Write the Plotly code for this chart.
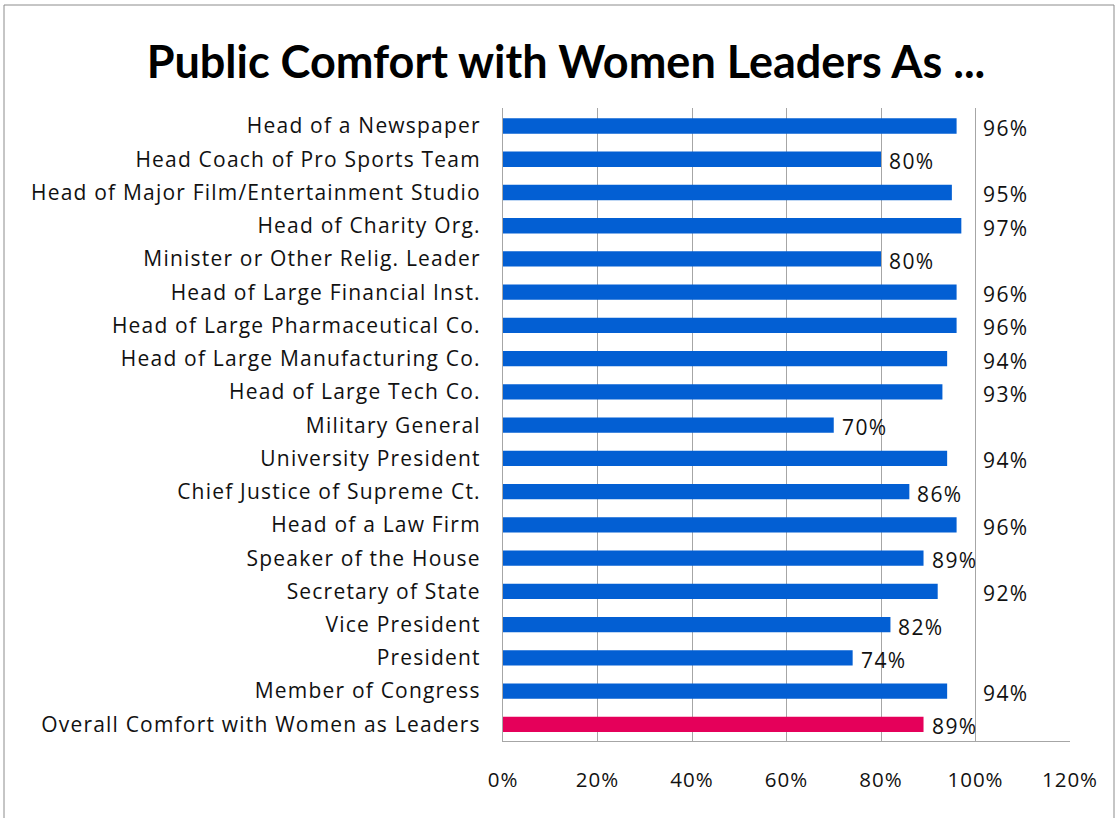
import plotly.graph_objects as go

categories = [
    "Head of a Newspaper",
    "Head Coach of Pro Sports Team",
    "Head of Major Film/Entertainment Studio",
    "Head of Charity Org.",
    "Minister or Other Relig. Leader",
    "Head of Large Financial Inst.",
    "Head of Large Pharmaceutical Co.",
    "Head of Large Manufacturing Co.",
    "Head of Large Tech Co.",
    "Military General",
    "University President",
    "Chief Justice of Supreme Ct.",
    "Head of a Law Firm",
    "Speaker of the House",
    "Secretary of State",
    "Vice President",
    "President",
    "Member of Congress",
    "Overall Comfort with Women as Leaders",
]
values = [96, 80, 95, 97, 80, 96, 96, 94, 93, 70, 94, 86, 96, 89, 92, 82, 74, 94, 89]
x_ticks = [0, 20, 40, 60, 80, 100, 120]
x_tick_labels = ["0%", "20%", "40%", "60%", "80%", "100%", "120%"]
highlight = "Overall Comfort with Women as Leaders"

BLUE = "#035FD3"
PINK = "#E5005A"
colors = [PINK if c == highlight else BLUE for c in categories]

FONT = "'Open Sans', Lato, sans-serif"
TITLE_FONT = "Lato, 'Open Sans', sans-serif"


def spaced(s, px):
    return f'<span style="letter-spacing:{px}px">{s}</span>'


fig = go.Figure(
    go.Bar(
        x=values,
        y=categories,
        orientation="h",
        marker=dict(color=colors, line=dict(width=0)),
        width=0.46,
        hoverinfo="skip",
    )
)

# data labels: just past the bar end; labels of bars above 90% sit past the 100% gridline
for cat, v in zip(categories, values):
    anchor_x = 100 if v >= 90 else v
    fig.add_annotation(
        x=anchor_x,
        y=cat,
        xref="x",
        yref="y",
        text=spaced(f"{v}%", 1.4),
        showarrow=False,
        xanchor="left",
        yanchor="middle",
        xshift=5 if v >= 90 else 6,
        yshift=-2,
        font=dict(family=FONT, size=21, color="#111111"),
    )

L, R, T, B = 503, 1070, 108, 741
W, H = 1117, 818

fig.update_layout(
    width=W,
    height=H,
    margin=dict(l=L, r=W - R, t=T, b=H - B, pad=0),
    paper_bgcolor="white",
    plot_bgcolor="white",
    showlegend=False,
    title=dict(
        text="<b>Public Comfort with Women Leaders As ...</b>",
        x=566 / W,
        xanchor="center",
        y=1 - 62 / H,
        yanchor="middle",
        font=dict(family=TITLE_FONT, size=45, color="black"),
    ),
)

fig.update_xaxes(
    range=[0, 120],
    tickvals=x_ticks,
    ticktext=[spaced(t, 1) for t in x_tick_labels],
    showgrid=True,
    gridcolor="#A6A6A6",
    gridwidth=1,
    zeroline=False,
    showline=True,
    linecolor="#A6A6A6",
    linewidth=1,
    ticks="",
    ticklabelstandoff=20,
    tickfont=dict(family=FONT, size=20.5, color="#111111"),
    fixedrange=True,
)
fig.update_yaxes(
    autorange="reversed",
    tickvals=categories,
    ticktext=[spaced(c, 1.2) for c in categories],
    showgrid=False,
    showline=True,
    linecolor="#A6A6A6",
    linewidth=1,
    ticks="",
    ticklabelstandoff=17,
    tickfont=dict(family=FONT, size=21, color="#111111"),
    fixedrange=True,
)

# outer chart border
pw, ph = R - L, B - T
fig.add_shape(
    type="rect",
    xref="paper",
    yref="paper",
    x0=(4 - L) / pw,
    x1=(1114 - L) / pw,
    y0=(B - 830) / ph,
    y1=(B - 5) / ph,
    line=dict(color="#8C8C8C", width=1),
    fillcolor="rgba(0,0,0,0)",
    layer="below",
)

fig.write_html(
    "out.html",
    config={"displayModeBar": False},
    post_script="document.body.style.margin='0';document.body.style.padding='0';",
)
